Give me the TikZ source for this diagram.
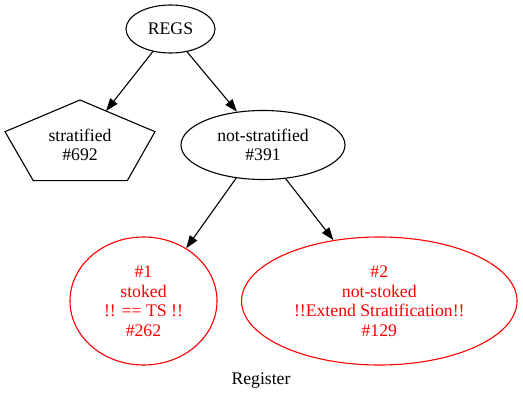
\documentclass[tikz,border=0pt]{standalone}
\usepackage{fontspec}
\setmainfont{Liberation Serif}
\usetikzlibrary{shapes.geometric,arrows.meta,calc}
\begin{document}
\begin{tikzpicture}[x=1pt,y=-1pt,
  lbl/.style={font=\fontsize{17.7}{19.5}\selectfont, align=center, inner sep=0pt},
  ell/.style={lbl, ellipse, draw, line width=1.1pt},
  redell/.style={ell, draw=red, text=red},
  arr/.style={line width=1.1pt, -{Triangle[length=12.7pt,width=9pt]}}]
\useasboundingbox (0,0) rectangle (523,401);
\node[ell, minimum width=89pt, minimum height=48pt] (regs) at (170.5,29) {REGS};
% pentagon
\coordinate (p1) at (80,100);
\coordinate (p2) at (155,131.7);
\coordinate (p3) at (127.3,180.7);
\coordinate (p4) at (33.3,180.7);
\coordinate (p5) at (5,131.7);
\draw[line width=1.1pt, line join=miter] (p1) -- (p2) -- (p3) -- (p4) -- (p5) -- cycle;
\node[lbl] (strat) at (80,145) {stratified\\\#692};
\coordinate (sEnd) at ($(p1)!0.347!(p2)$);
\node[ell, minimum width=164pt, minimum height=69pt] (ns) at (263,145) {not-stratified\\\#391};
\node[redell, minimum width=147pt, minimum height=128pt] (one) at (143.5,301) {\#1\\stoked\\!! == TS !!\\\#262};
\node[redell, minimum width=275.5pt, minimum height=128pt] (two) at (379.3,301) {\#2\\not-stoked\\!!Extend Stratification!!\\\#129};
\node[lbl] (title) at (261,381) {Register};
\draw[arr] (regs.232) -- (sEnd);
\draw[arr] (regs.306.5) -- (ns.128.7);
\draw[arr] (ns.231.3) -- (one.51.9);
\draw[arr] (ns.304.1) -- (two.127.3);
\end{tikzpicture}
\end{document}
